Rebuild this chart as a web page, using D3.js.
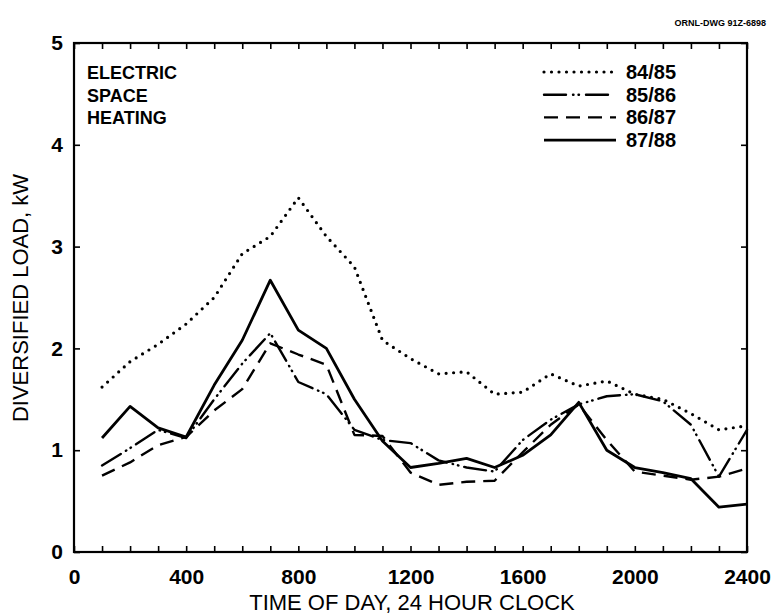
<!DOCTYPE html>
<html><head><meta charset="utf-8">
<script src="https://cdn.jsdelivr.net/npm/d3@7"></script>
<style>body{margin:0;background:#fff}svg text{font-family:"Liberation Sans",Arial,sans-serif;fill:#000}</style>
</head><body><svg id="c" width="776" height="615"></svg>
<script>
const hours = [100,200,300,400,500,600,700,800,900,1000,1100,1200,1300,1400,1500,1600,1700,1800,1900,2000,2100,2200,2300,2400];
const s8485 = [1.62,1.87,2.04,2.24,2.5,2.93,3.1,3.48,3.1,2.8,2.08,1.9,1.75,1.77,1.55,1.57,1.75,1.63,1.68,1.55,1.5,1.36,1.2,1.24];
const s8586 = [0.85,1.02,1.2,1.12,1.5,1.85,2.15,1.67,1.55,1.2,1.1,1.07,0.9,0.83,0.79,1.1,1.3,1.45,1.53,1.55,1.48,1.25,0.74,1.2];
const s8687 = [0.75,0.88,1.05,1.13,1.39,1.6,2.05,1.94,1.84,1.15,1.14,0.78,0.66,0.69,0.7,0.98,1.25,1.45,1.1,0.79,0.75,0.71,0.74,0.82];
const s8788 = [1.12,1.43,1.22,1.13,1.64,2.08,2.67,2.18,2.0,1.5,1.09,0.83,0.87,0.92,0.83,0.95,1.15,1.47,1.0,0.83,0.78,0.72,0.44,0.47];
const seriesNames = ["84/85","85/86","86/87","87/88"];
const xTicks = [0,400,800,1200,1600,2000,2400];
const yTicks = [0,1,2,3,4,5];
const titleLines = ["ELECTRIC","SPACE","HEATING"];

const svg = d3.select("#c");
const L=74,R=747,T=43,B=552;
const x = d3.scaleLinear().domain([0,2400]).range([L,R]);
const y = d3.scaleLinear().domain([0,5]).range([B,T]);

const styles = [
  {dash:"0 7.5", w:3.2, cap:"round"},
  {dash:"22 6 0.5 5 0.5 6", w:2.4, cap:"round"},
  {dash:"14 8", w:2.4, cap:"butt"},
  {dash:null, w:2.8, cap:"butt"}
];
const data = [s8485,s8586,s8687,s8788];

svg.append("rect").attr("x",L).attr("y",T).attr("width",R-L).attr("height",B-T)
  .attr("fill","none").attr("stroke","#000").attr("stroke-width",2.2);

const minorX = d3.range(0,2401,100);
const tk = g=>{g.select(".domain").remove();g.selectAll("line").attr("stroke-width",1.6);};
svg.append("g").attr("transform",`translate(0,${B})`)
  .call(d3.axisTop(x).tickValues(minorX).tickSize(6).tickFormat("")).call(tk);
svg.append("g").attr("transform",`translate(0,${T})`)
  .call(d3.axisBottom(x).tickValues(minorX).tickSize(6).tickFormat("")).call(tk);
svg.append("g").attr("transform",`translate(${L},0)`)
  .call(d3.axisRight(y).tickValues(yTicks).tickSize(6).tickFormat("")).call(tk);
svg.append("g").attr("transform",`translate(${R},0)`)
  .call(d3.axisLeft(y).tickValues(yTicks).tickSize(6).tickFormat("")).call(tk);

const xl = svg.append("g").attr("transform",`translate(0,${B})`)
  .call(d3.axisBottom(x).tickValues(xTicks).tickSize(0).tickPadding(17).tickFormat(d3.format("d")));
xl.select(".domain").remove();
xl.selectAll("text").attr("font-size",21).attr("font-family","Liberation Sans, Arial").attr("font-weight","bold").attr("fill","#000");
const yl = svg.append("g").attr("transform",`translate(${L},0)`)
  .call(d3.axisLeft(y).tickValues(yTicks).tickSize(0).tickPadding(11).tickFormat(d3.format("d")));
yl.select(".domain").remove();
yl.selectAll("text").attr("font-size",21).attr("font-family","Liberation Sans, Arial").attr("font-weight","bold").attr("fill","#000");

const line = d3.line().x((d,i)=>x(hours[i])).y(d=>y(d));
data.forEach((s,k)=>{
  const p = svg.append("path").datum(s).attr("d",line).attr("fill","none")
    .attr("stroke","#000").attr("stroke-width",styles[k].w)
    .attr("stroke-linecap",styles[k].cap).attr("stroke-linejoin","round");
  if(styles[k].dash) p.attr("stroke-dasharray",styles[k].dash);
});

const lg = svg.append("g");
seriesNames.forEach((n,k)=>{
  const yy = 72 + k*22.7;
  const p = lg.append("line").attr("x1",544).attr("x2",616).attr("y1",yy).attr("y2",yy)
    .attr("stroke","#000").attr("stroke-width",styles[k].w).attr("stroke-linecap",styles[k].cap);
  if(styles[k].dash) p.attr("stroke-dasharray",k===1?"22 7 0.5 5 0.5 7 22":styles[k].dash);
  lg.append("text").attr("x",626).attr("y",yy+7).attr("font-size",20).attr("font-weight","bold").text(n);
});

titleLines.forEach((t,i)=>{
  svg.append("text").attr("x",87).attr("y",79+i*22.5).attr("font-size",18).attr("font-weight","bold").text(t);
});

svg.append("text").attr("x",412).attr("y",610).attr("text-anchor","middle")
  .attr("font-size",22).text("TIME OF DAY, 24 HOUR CLOCK");
svg.append("text").attr("transform",`translate(28,298) rotate(-90)`).attr("text-anchor","middle")
  .attr("font-size",22).text("DIVERSIFIED LOAD, kW");

svg.append("text").attr("x",766).attr("y",26).attr("text-anchor","end").attr("font-size",9).attr("font-weight","bold")
  .text("ORNL-DWG 91Z-6898");
</script></body></html>
